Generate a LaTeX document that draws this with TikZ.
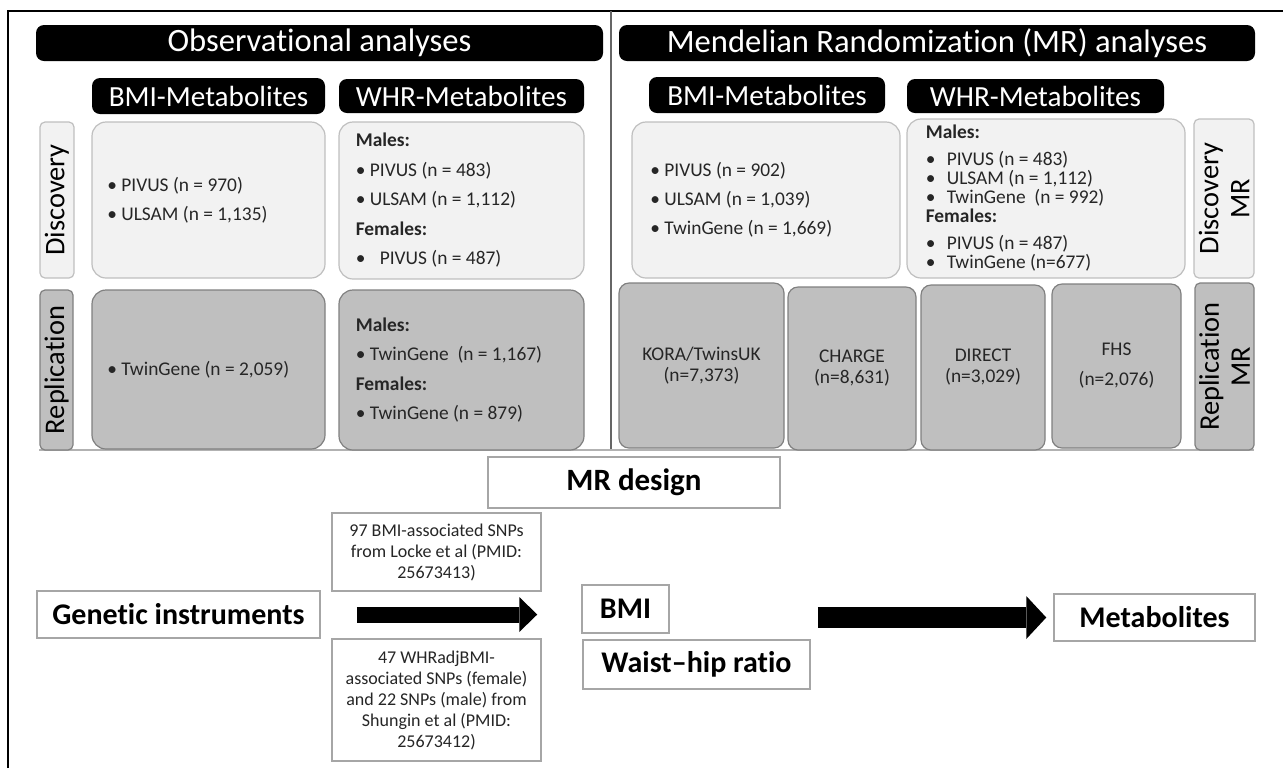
\documentclass[tikz,border=0pt]{standalone}
\usepackage{fontspec}
\setmainfont{Carlito}[Ligatures=NoCommon]
\usetikzlibrary{positioning,fit,arrows.meta}

\begin{document}
\begin{tikzpicture}[x=0.5pt, y=-0.5pt,
  titlebar/.style={fill=black, rounded corners=4pt, inner sep=0},
  titletxt/.style={text=white, inner sep=0, font=\fontsize{16.3}{19}\selectfont},
  headtxt/.style={titletxt, font=\fontsize{14.6}{17}\selectfont},
  disc/.style={draw=black!25, fill=black!5, line width=0.6pt, rounded corners=7pt, inner sep=0},
  repl/.style={draw=black!50, fill=black!25, line width=0.6pt, rounded corners=7pt, inner sep=0},
  lab/.style={rotate=90, inner sep=0, align=center, font=\fontsize{14.2}{15.5}\selectfont},
  txt/.style={inner sep=0, align=left, text=black!85, font=\fontsize{9.7}{14.75}\selectfont},
  celltxt/.style={inner sep=0, align=center, text=black!85, font=\fontsize{9.7}{10.5}\selectfont},
  plainbox/.style={draw=black!35, fill=white, line width=0.75pt, inner sep=0},
  bigtxt/.style={inner sep=0, font=\bfseries\fontsize{15}{18}\selectfont},
  smalltxt/.style={inner sep=0, align=center, text=black!85, font=\fontsize{9}{10.5}\selectfont}]
  \useasboundingbox (0,0) rectangle (1283,768);
  \draw[line width=0.8pt] (8,768) -- (8,11) -- (1283,11);
  \draw[black!60, line width=0.7pt] (611,11) -- (611,450);
  \draw[black!30, line width=0.6pt] (39,450) -- (1254,450);

  \node[titlebar, fit={(36,25)(603,61)}] (obs) {};
  \node[titletxt] (obsT) at (obs) {Observational analyses};
  \node[titlebar, fit={(619,25)(1255,61)}] (mr) {};
  \node[titletxt] (mrT) at (mr) {Mendelian Randomization (MR) analyses};
  \node[titlebar, fit={(92,78)(325,114)}] (obsBmi) {};
  \node[headtxt] (obsBmiT) at (obsBmi) {BMI-Metabolites};
  \node[titlebar, fit={(339,79)(584,113)}] (obsWhr) {};
  \node[headtxt] (obsWhrT) at (obsWhr) {WHR-Metabolites};
  \node[titlebar, fit={(649,77)(885,113)}] (mrBmi) {};
  \node[headtxt] (mrBmiT) at (mrBmi) {BMI-Metabolites};
  \node[titlebar, fit={(907,79)(1164,113)}] (mrWhr) {};
  \node[headtxt] (mrWhrT) at (mrWhr) {WHR-Metabolites};

  \node[disc, rounded corners=2.5pt, fit={(40,122)(74,278)}] (discTag) {};
  \node[lab] (discTagT) at (discTag) {Discovery};
  \node[disc, fit={(92,122)(325,278)}] (obsBmiD) {};
  \node[txt, right=7.75pt of obsBmiD.west] (obsBmiDt) {• PIVUS (n = 970)\\• ULSAM (n = 1,135)};
  \node[disc, fit={(339,122)(584,279)}] (obsWhrD) {};
  \node[txt, right=8.5pt of obsWhrD.west] (obsWhrDt) {\textbf{Males:}\\• PIVUS (n = 483)\\• ULSAM (n = 1,112)\\\textbf{Females:}\\\makebox[12pt][l]{•}PIVUS (n = 487)};
  \node[disc, fit={(632,122)(900,278)}] (mrBmiD) {};
  \node[txt, right=9.25pt of mrBmiD.west, font=\fontsize{9.7}{14.5}\selectfont] (mrBmiDt) {• PIVUS (n = 902)\\• ULSAM (n = 1,039)\\• TwinGene (n = 1,669)};
  \node[disc, fit={(907,119)(1185,278)}] (mrWhrD) {};
  \node[txt, right=9.5pt of mrWhrD.west, font=\fontsize{9.7}{9.5}\selectfont] (mrWhrDt) {\textbf{Males:}\\[4pt]\makebox[10.5pt][l]{•}PIVUS (n = 483)\\\makebox[10.5pt][l]{•}ULSAM (n = 1,112)\\\makebox[10.5pt][l]{•}TwinGene~ (n = 992)\\\textbf{Females:}\\[4pt]\makebox[10.5pt][l]{•}PIVUS (n = 487)\\\makebox[10.5pt][l]{•}TwinGene (n=677)};
  \node[disc, rounded corners=2.5pt, fit={(1194,119)(1254,278)}] (discMr) {};
  \node[lab] (discMrT) at (discMr) {Discovery\\MR};

  \node[repl, rounded corners=2.5pt, fit={(40,290)(73,450)}] (replTag) {};
  \node[lab] (replTagT) at (replTag) {Replication};
  \node[repl, fit={(92,290)(325,449)}] (obsBmiR) {};
  \node[txt, right=7.75pt of obsBmiR.west] (obsBmiRt) {• TwinGene (n = 2,059)};
  \node[repl, fit={(339,290)(584,450)}] (obsWhrR) {};
  \node[txt, right=8.5pt of obsWhrR.west] (obsWhrRt) {\textbf{Males:}\\• TwinGene~ (n = 1,167)\\\textbf{Females:}\\• TwinGene (n = 879)};
  \node[repl, rounded corners=5pt, fit={(619,283)(784,448)}] (kora) {};
  \node[celltxt] (koraT) at (kora) {KORA/TwinsUK\\(n=7,373)};
  \node[repl, rounded corners=5pt, fit={(788,287)(916,450)}] (charge) {};
  \node[celltxt] (chargeT) at (charge) {CHARGE\\(n=8,631)};
  \node[repl, rounded corners=5pt, fit={(921,285)(1045,450)}] (direct) {};
  \node[celltxt] (directT) at (direct) {DIRECT\\(n=3,029)};
  \node[repl, rounded corners=5pt, fit={(1052,284)(1181,448)}] (fhs) {};
  \node[celltxt] (fhsT) at (fhs) {FHS\\[4.5pt](n=2,076)};
  \node[repl, rounded corners=2.5pt, fit={(1195,283)(1254,450)}] (replMr) {};
  \node[lab] (replMrT) at (replMr) {Replication\\MR};

  \node[plainbox, fit={(488,457)(780,508)}] (design) {};
  \node[bigtxt, font=\bfseries\fontsize{15.5}{18}\selectfont] (designT) at (design) {MR design};
  \node[plainbox, fit={(332,513)(541,591)}] (locke) {};
  \node[smalltxt] (lockeT) at (locke) {97 BMI-associated SNPs\\from Locke et al (PMID:\\25673413)};
  \node[plainbox, fit={(332,639)(541,761)}] (shungin) {};
  \node[smalltxt] (shunginT) at (shungin) {47 WHRadjBMI-\\associated SNPs (female)\\and 22 SNPs (male) from\\Shungin et al (PMID:\\25673412)};
  \node[plainbox, fit={(37,591)(320,638)}] (gen) {};
  \node[bigtxt] (genT) at (gen) {Genetic instruments};
  \node[plainbox, fit={(582,585)(669,633)}] (bmi) {};
  \node[bigtxt] (bmiT) at (bmi) {BMI};
  \node[plainbox, fit={(583,640)(810,689)}] (whr) {};
  \node[bigtxt] (whrT) at (whr) {Waist–hip ratio};
  \node[plainbox, fit={(1054,594)(1255,641)}] (met) {};
  \node[bigtxt] (metT) at (met) {Metabolites};

  \draw[line width=8pt, -{Triangle[length=9pt, width=17.5pt, line width=0pt]}] ([xshift=18pt]gen.east) -- ([xshift=-22pt]gen.east -| bmi.west);
  \draw[line width=10.5pt, -{Triangle[length=10pt, width=21.5pt, line width=0pt]}] ([xshift=3.5pt]met.west -| whr.east) -- ([xshift=-3.5pt]met.west);
\end{tikzpicture}
\end{document}
